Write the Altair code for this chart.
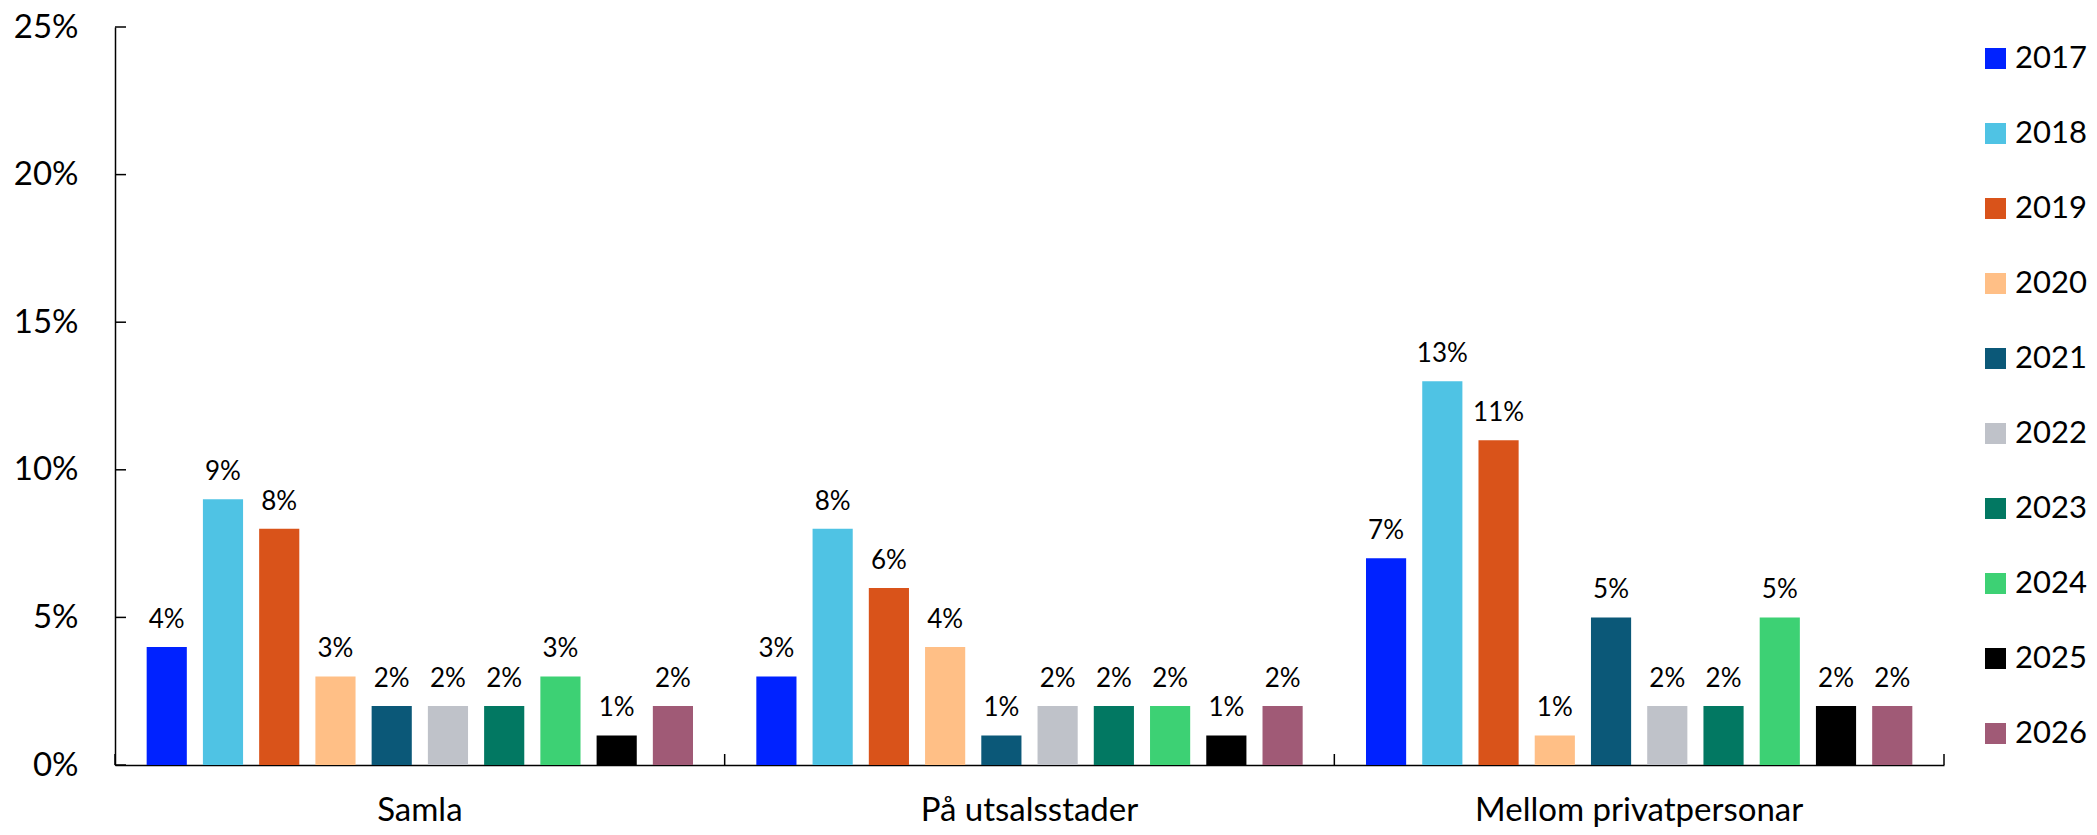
import altair as alt
import pandas as pd

categories = ["Samla", "På utsalsstader", "Mellom privatpersonar"]
years = ["2017", "2018", "2019", "2020", "2021", "2022", "2023", "2024", "2025", "2026"]
samla = [4, 9, 8, 3, 2, 2, 2, 3, 1, 2]
utsal = [3, 8, 6, 4, 1, 2, 2, 2, 1, 2]
privat = [7, 13, 11, 1, 5, 2, 2, 5, 2, 2]
colors = ["#0022FF", "#4FC3E4", "#D9531A", "#FFBF86", "#0B5878",
          "#BFC2C9", "#027862", "#3DD174", "#000000", "#A05A76"]
y_ticks = [0, 0.05, 0.10, 0.15, 0.20, 0.25]

rows = []
for cat, vals in zip(categories, [samla, utsal, privat]):
    for yr, v in zip(years, vals):
        rows.append({"cat": cat, "year": yr, "value": v / 100})
df = pd.DataFrame(rows)

FONT = "Lato"
W, H = 1829, 738

x_enc = alt.X("cat:N", sort=categories, title=None,
              scale=alt.Scale(paddingInner=0, paddingOuter=0),
              axis=alt.Axis(labelAngle=0, ticks=False, domain=True, domainColor="black",
                            domainWidth=1.5, labelFontSize=33, labelFont=FONT,
                            labelColor="black", labelPadding=29, labelBaseline="top",
                            labelLimit=0))
y_enc = alt.Y("value:Q", title=None,
              scale=alt.Scale(domain=[0, 0.25], nice=False),
              axis=alt.Axis(values=y_ticks, format=".0%", ticks=False, grid=False,
                            domainColor="black", domainWidth=1.5, labelFontSize=33,
                            labelFont=FONT, labelColor="black", labelPadding=37))
xoff = alt.XOffset("year:N", sort=years,
                   scale=alt.Scale(paddingInner=0.286, paddingOuter=0.563))

bars = alt.Chart(df).mark_bar().encode(
    x=x_enc, xOffset=xoff, y=y_enc,
    color=alt.Color("year:N", sort=years,
                    scale=alt.Scale(domain=years, range=colors),
                    legend=alt.Legend(title=None, orient="none", legendX=1865, legendY=16,
                                      symbolType="square", symbolSize=441,
                                      symbolStrokeWidth=0, labelFontSize=31,
                                      labelFont=FONT, labelColor="black",
                                      labelOffset=4, rowPadding=43, padding=0,
                                      labelLimit=0)),
)

labels = alt.Chart(df).mark_text(baseline="alphabetic", dy=-19, fontSize=26,
                                 font=FONT, color="black").encode(
    x=alt.X("cat:N", sort=categories),
    xOffset=alt.XOffset("year:N", sort=years),
    y=alt.Y("value:Q"),
    text=alt.Text("value:Q", format=".0%"),
)

tick_df = pd.DataFrame({"value": y_ticks})
yticks = alt.Chart(tick_df).mark_rule(color="black", strokeWidth=1.5).encode(
    y=alt.Y("value:Q"), x=alt.value(0), x2=alt.value(11))

cat_df = pd.DataFrame({"cat": categories})
sep_left = alt.Chart(cat_df).mark_rule(color="black", strokeWidth=1.5).encode(
    x=alt.X("cat:N", sort=categories, bandPosition=0),
    y=alt.value(H - 11), y2=alt.value(H))
last_df = pd.DataFrame({"cat": categories[-1:]})
sep_right = alt.Chart(last_df).mark_rule(color="black", strokeWidth=1.5).encode(
    x=alt.X("cat:N", sort=categories, bandPosition=1),
    y=alt.value(H - 11), y2=alt.value(H))

chart = alt.layer(bars, labels, yticks, sep_left, sep_right).properties(
    width=W, height=H,
    background="white",
    autosize=alt.AutoSizeParams(type="none"),
    padding={"left": 107, "top": 19, "right": 145, "bottom": 62},
).configure_view(strokeWidth=0, stroke="transparent")

chart.save("out.html", embed_options={"renderer": "svg", "actions": False})
